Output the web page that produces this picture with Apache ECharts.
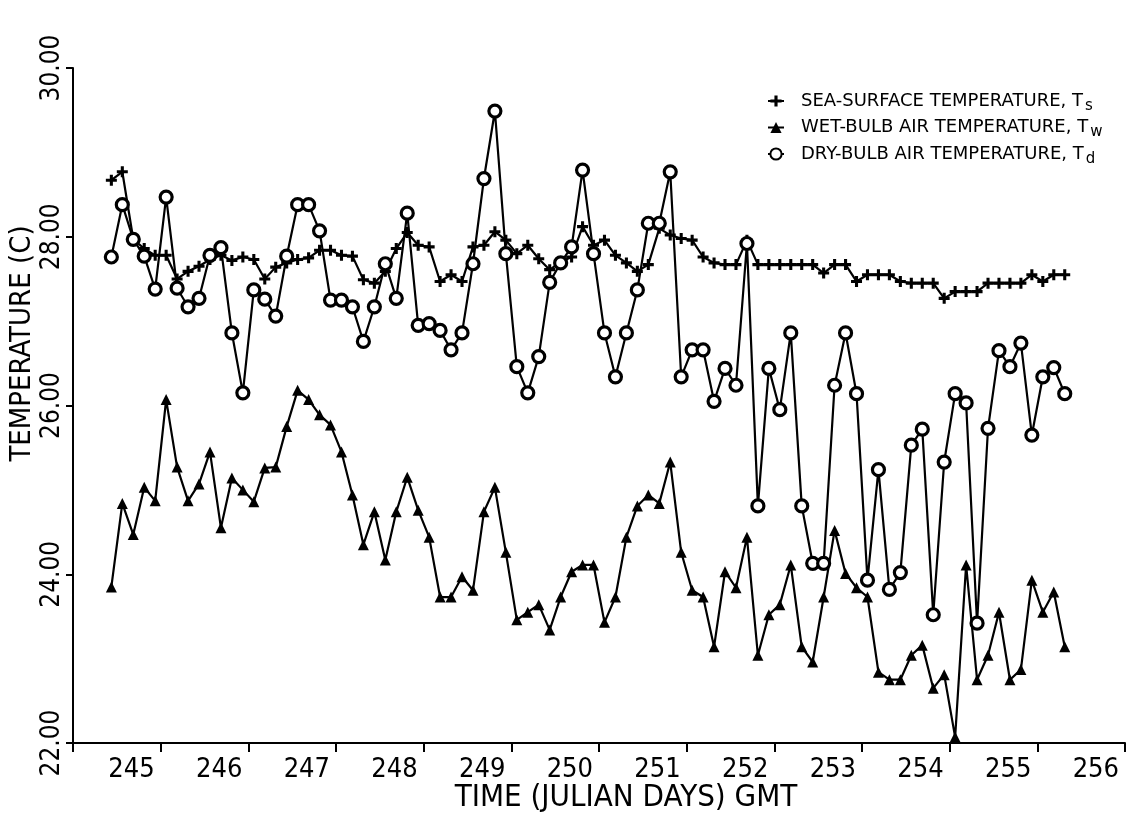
<!DOCTYPE html>
<html><head><meta charset="utf-8">
<script src="https://cdn.jsdelivr.net/npm/echarts@6/dist/echarts.min.js"></script>
<style>html,body{margin:0;padding:0;background:#fff}#c{width:1132px;height:815px}</style>
</head><body><div id="c"></div>
<script>
// Time of each observation (Julian day, GMT), 3-hourly
const times = [
 244.4375,244.5625,244.6875,244.8125,244.9375,
 245.0625,245.1875,245.3125,245.4375,245.5625,245.6875,245.8125,245.9375,
 246.0625,246.1875,246.3125,246.4375,246.5625,246.6875,246.8125,246.9375,
 247.0625,247.1875,247.3125,247.4375,247.5625,247.6875,247.8125,247.9375,
 248.0625,248.1875,248.3125,248.4375,248.5625,248.6875,248.8125,248.9375,
 249.0625,249.1875,249.3125,249.4375,249.5625,249.6875,249.8125,249.9375,
 250.0625,250.1875,250.3125,250.4375,250.5625,250.6875,250.8125,250.9375,
 251.0625,251.1875,251.3125,251.4375,251.5625,251.6875,251.8125,251.9375,
 252.0625,252.1875,252.3125,252.4375,252.5625,252.6875,252.8125,252.9375,
 253.0625,253.1875,253.3125,253.4375,253.5625,253.6875,253.8125,253.9375,
 254.0625,254.1875,254.3125,254.4375,254.5625,254.6875,254.8125,254.9375,
 255.0625,255.1875,255.3125
];
// Sea-surface temperature Ts (C)
const seaSurface = [
 28.67,28.77,27.97,27.86,27.78,27.78,27.50,27.59,27.65,27.73,
 27.78,27.72,27.76,27.73,27.50,27.64,27.69,27.73,27.75,27.84,
 27.84,27.78,27.77,27.49,27.45,27.59,27.86,28.05,27.90,27.88,
 27.47,27.55,27.47,27.88,27.90,28.06,27.96,27.80,27.90,27.74,
 27.61,27.70,27.76,28.12,27.90,27.96,27.78,27.69,27.59,27.67,
 28.10,28.02,27.98,27.96,27.76,27.69,27.67,27.67,27.96,27.67,
 27.67,27.67,27.67,27.67,27.67,27.57,27.67,27.67,27.47,27.55,
 27.55,27.55,27.47,27.45,27.45,27.45,27.27,27.35,27.35,27.35,
 27.45,27.45,27.45,27.45,27.55,27.47,27.55,27.55
];
// Wet-bulb air temperature Tw (C)
const wetBulb = [
 23.85,24.84,24.47,25.03,24.87,26.07,25.27,24.87,25.07,25.45,
 24.55,25.14,25.00,24.86,25.26,25.27,25.75,26.18,26.07,25.89,
 25.77,25.45,24.94,24.35,24.74,24.17,24.74,25.15,24.76,24.44,
 23.73,23.73,23.97,23.81,24.74,25.03,24.26,23.46,23.55,23.64,
 23.34,23.73,24.03,24.11,24.11,23.43,23.73,24.44,24.81,24.94,
 24.84,25.33,24.26,23.81,23.73,23.14,24.03,23.84,24.44,23.04,
 23.52,23.64,24.11,23.14,22.96,23.73,24.52,24.01,23.84,23.73,
 22.84,22.75,22.75,23.04,23.16,22.65,22.81,22.07,24.11,22.75,
 23.04,23.55,22.75,22.87,23.93,23.55,23.79,23.14
];
// Dry-bulb air temperature Td (C)
const dryBulb = [
 27.76,28.38,27.97,27.77,27.38,28.47,27.39,27.17,27.27,27.78,
 27.87,26.86,26.15,27.37,27.26,27.06,27.77,28.38,28.38,28.07,
 27.25,27.25,27.17,26.76,27.17,27.68,27.27,28.28,26.95,26.97,
 26.89,26.66,26.86,27.68,28.69,29.49,27.80,26.46,26.15,26.58,
 27.46,27.69,27.88,28.79,27.80,26.86,26.34,26.86,27.37,28.16,
 28.16,28.77,26.34,26.66,26.66,26.05,26.44,26.24,27.92,24.81,
 26.44,25.95,26.86,24.81,24.13,24.13,26.24,26.86,26.14,23.93,
 25.24,23.82,24.02,25.53,25.72,23.52,25.33,26.14,26.03,23.42,
 25.73,26.65,26.46,26.74,25.65,26.34,26.45,26.14
];
const xTicks = [244,245,246,247,248,249,250,251,252,253,254,255,256];
const yTicks = [22,24,26,28,30];

const pair = arr => times.map((t, i) => [t, arr[i]]);
const plusPath = 'path://M3.6,0L6.4,0L6.4,3.6L10,3.6L10,6.4L6.4,6.4L6.4,10L3.6,10L3.6,6.4L0,6.4L0,3.6L3.6,3.6Z';
const FONT = '"DejaVu Sans Condensed","Liberation Sans Narrow","DejaVu Sans",sans-serif';
const LFONT = '"DejaVu Sans",sans-serif';

const chart = echarts.init(document.getElementById('c'), null, {renderer: 'canvas'});
chart.setOption({
  animation: false,
  backgroundColor: '#fff',
  grid: {left: 73, right: 7, top: 68, bottom: 72, containLabel: false, outerBoundsMode: 'none'},
  legend: {
    orient: 'vertical', left: 762, top: 87, itemGap: 5, itemWidth: 16, itemHeight: 14,
    textStyle: {
      color: '#000', fontFamily: LFONT, fontSize: 18,
      rich: {
        m: {fontFamily: LFONT, fontSize: 18, color: '#000', padding: [0,0,0,12]},
        sub: {fontFamily: LFONT, fontSize: 15, color: '#000', padding: [10,0,0,2]}
      }
    },
    formatter: name => {
      if (name === 'ts') return '{m|SEA-SURFACE TEMPERATURE, T}{sub|s}';
      if (name === 'tw') return '{m|WET-BULB AIR TEMPERATURE, T}{sub|w}';
      return '{m|DRY-BULB AIR TEMPERATURE, T}{sub|d}';
    },
    data: ['ts', 'tw', 'td']
  },
  xAxis: {
    type: 'value', min: 244, max: 256, interval: 1,
    name: 'TIME (JULIAN DAYS) GMT', nameLocation: 'middle', nameGap: 39, nameMoveOverlap: false,
    nameTextStyle: {color: '#000', fontFamily: FONT, fontSize: 31, padding: [0,0,0,54]},
    axisLine: {lineStyle: {color: '#000', width: 2}},
    axisTick: {inside: false, length: 9, lineStyle: {color: '#000', width: 2}},
    splitLine: {show: false},
    axisLabel: {
      color: '#000', fontFamily: FONT, fontSize: 27, align: 'right', margin: 13,
      padding: [0, 6, 0, 0],
      formatter: v => (xTicks.indexOf(v) > 0 ? String(v) : '')
    }
  },
  yAxis: {
    type: 'value', min: 22, max: 30, interval: 2,
    name: 'TEMPERATURE (C)', nameLocation: 'middle', nameRotate: 90, nameGap: 36, nameMoveOverlap: false,
    nameTextStyle: {color: '#000', fontFamily: FONT, fontSize: 29, padding: [0,0,0,124]},
    axisLine: {lineStyle: {color: '#000', width: 2}},
    axisTick: {inside: false, length: 7, lineStyle: {color: '#000', width: 2}},
    splitLine: {show: false},
    axisLabel: {
      color: '#000', fontFamily: FONT, fontSize: 26, rotate: 90, margin: 8,
      formatter: v => (yTicks.indexOf(v) >= 0 ? v.toFixed(2) : '')
    }
  },
  series: [
    {name: 'ts', type: 'line', data: pair(seaSurface), symbol: plusPath, symbolSize: 11,
     itemStyle: {color: '#000'}, lineStyle: {color: '#000', width: 2.2}, z: 3},
    {name: 'tw', type: 'line', data: pair(wetBulb), symbol: 'triangle', symbolSize: 11,
     itemStyle: {color: '#000'}, lineStyle: {color: '#000', width: 2.2}, z: 4},
    {name: 'td', type: 'line', data: pair(dryBulb), symbol: 'circle', symbolSize: 12,
     itemStyle: {color: '#fff', borderColor: '#000', borderWidth: 3.2}, lineStyle: {color: '#000', width: 2.2}, z: 5}
  ]
});
</script></body></html>
